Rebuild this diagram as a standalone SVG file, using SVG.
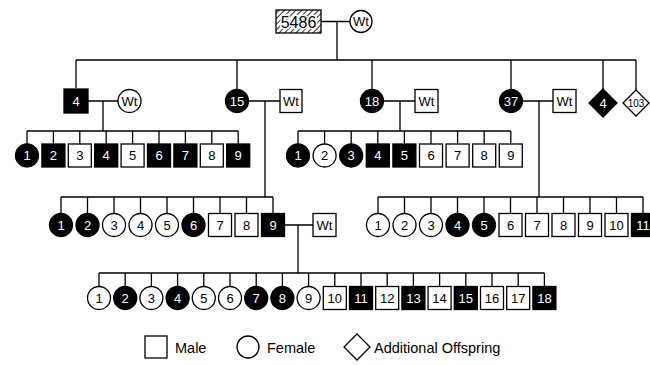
<svg xmlns="http://www.w3.org/2000/svg" width="650" height="365" viewBox="0 0 650 365">
<defs>
<pattern id="hatch" width="4" height="4" patternUnits="userSpaceOnUse" patternTransform="rotate(45)">
<rect width="4" height="4" fill="#fff"/>
<line x1="0" y1="0" x2="0" y2="4" stroke="#000" stroke-width="1.6"/>
</pattern>
<style>
.ln{stroke:#000;stroke-width:1.3;fill:none}
.o{fill:#fff;stroke:#000;stroke-width:1.3}
.b{fill:#000;stroke:#000;stroke-width:1.3}
text{font-family:"Liberation Sans",Arial,sans-serif;font-size:13px;text-anchor:middle}
.tw{fill:#fff}
.tb{fill:#000}
.big{font-size:16px;stroke:#fff;stroke-width:3;paint-order:stroke;stroke-linejoin:round}
.sm{font-size:10px}
.lg{text-anchor:start;font-size:14.5px}
</style>
</defs>
<rect width="650" height="365" fill="#fff"/>

<g id="connectors" class="ln">
<path d="M321 21.5H350M337 21.5V60M76 60H636M76 60V88M237 60V90M372 60V90M511 60V90M603 60V89M636 60V90"/>
<path d="M88 101H118M103 101V131M248.5 101H280M265 101V197M383.5 101H415M400 101V131M522.5 101H553M539 101V197"/>
<path d="M27 131H238.2M27 131V144M53.4 131V144M79.8 131V144M106.2 131V144M132.6 131V144M159 131V144M185.4 131V144M211.8 131V144M238.2 131V144"/>
<path d="M298 131H510.8M298 131V144M324.6 131V144M351.2 131V144M377.8 131V144M404.4 131V144M431 131V144M457.6 131V144M484.2 131V144M510.8 131V144"/>
<path d="M61 197H273M61 197V213.5M87.5 197V213.5M114 197V213.5M140.5 197V213.5M167 197V213.5M193.5 197V213.5M220 197V213.5M246.5 197V213.5M273 197V213.5"/>
<path d="M378 197H643M378 197V213.5M404.5 197V213.5M431 197V213.5M457.5 197V213.5M484 197V213.5M510.5 197V213.5M537 197V213.5M563.5 197V213.5M590 197V213.5M616.5 197V213.5M643 197V213.5"/>
<path d="M284.5 225H313M298 225V273M99 273H544.4M99 273V286.5M125.2 273V286.5M151.4 273V286.5M177.6 273V286.5M203.8 273V286.5M230 273V286.5M256.2 273V286.5M282.4 273V286.5M308.6 273V286.5M334.8 273V286.5M361 273V286.5M387.2 273V286.5M413.4 273V286.5M439.6 273V286.5M465.8 273V286.5M492 273V286.5M518.2 273V286.5M544.4 273V286.5"/>
</g>

<!-- Generation I -->
<g id="g1-5486"><rect x="276" y="10" width="45" height="23" fill="url(#hatch)" stroke="#000" stroke-width="1.3"/><text x="298.5" y="27.5" class="big tb">5486</text></g>
<g id="g1-wt"><circle cx="361" cy="21.5" r="11" class="o"/><text x="361" y="26" class="tb">Wt</text></g>

<!-- Generation II -->
<g id="g2-4"><rect x="64" y="89" width="24" height="24" class="b"/><text x="76" y="105.5" class="tw">4</text></g>
<g id="g2-4wt"><circle cx="129.5" cy="101" r="11.5" class="o"/><text x="129.5" y="105.5" class="tb">Wt</text></g>
<g id="g2-15"><circle cx="237" cy="101" r="11.5" class="b"/><text x="237" y="105.5" class="tw">15</text></g>
<g id="g2-15wt"><rect x="280" y="89.5" width="22" height="23" class="o"/><text x="291" y="105.5" class="tb">Wt</text></g>
<g id="g2-18"><circle cx="372" cy="101" r="11.5" class="b"/><text x="372" y="105.5" class="tw">18</text></g>
<g id="g2-18wt"><rect x="415" y="89.5" width="23" height="23" class="o"/><text x="426.5" y="105.5" class="tb">Wt</text></g>
<g id="g2-37"><circle cx="511" cy="101" r="11.5" class="b"/><text x="511" y="105.5" class="tw">37</text></g>
<g id="g2-37wt"><rect x="553" y="89.5" width="23" height="23" class="o"/><text x="564.5" y="105.5" class="tb">Wt</text></g>
<g id="g2-d4"><polygon points="603,89 617,103 603,117 589,103" class="b"/><text x="603" y="107.5" class="tw">4</text></g>
<g id="g2-d103"><polygon points="636,90 649,103 636,116 623,103" class="o"/><text x="636" y="106.5" class="sm tb">103</text></g>

<!-- Generation III (children of 4) -->
<g id="g3a-1"><circle cx="27" cy="155.5" r="11.5" class="b"/><text x="27" y="160" class="tw">1</text></g>
<g id="g3a-2"><rect x="41.9" y="144" width="23" height="23" class="b"/><text x="53.4" y="160" class="tw">2</text></g>
<g id="g3a-3"><rect x="68.3" y="144" width="23" height="23" class="o"/><text x="79.8" y="160" class="tb">3</text></g>
<g id="g3a-4"><rect x="94.7" y="144" width="23" height="23" class="b"/><text x="106.2" y="160" class="tw">4</text></g>
<g id="g3a-5"><rect x="121.1" y="144" width="23" height="23" class="o"/><text x="132.6" y="160" class="tb">5</text></g>
<g id="g3a-6"><rect x="147.5" y="144" width="23" height="23" class="b"/><text x="159" y="160" class="tw">6</text></g>
<g id="g3a-7"><rect x="173.9" y="144" width="23" height="23" class="b"/><text x="185.4" y="160" class="tw">7</text></g>
<g id="g3a-8"><rect x="200.3" y="144" width="23" height="23" class="o"/><text x="211.8" y="160" class="tb">8</text></g>
<g id="g3a-9"><rect x="226.7" y="144" width="23" height="23" class="b"/><text x="238.2" y="160" class="tw">9</text></g>

<!-- Generation III (children of 18) -->
<g id="g3b-1"><circle cx="298" cy="155.5" r="11.5" class="b"/><text x="298" y="160" class="tw">1</text></g>
<g id="g3b-2"><circle cx="324.6" cy="155.5" r="11.5" class="o"/><text x="324.6" y="160" class="tb">2</text></g>
<g id="g3b-3"><circle cx="351.2" cy="155.5" r="11.5" class="b"/><text x="351.2" y="160" class="tw">3</text></g>
<g id="g3b-4"><rect x="366.3" y="144" width="23" height="23" class="b"/><text x="377.8" y="160" class="tw">4</text></g>
<g id="g3b-5"><rect x="392.9" y="144" width="23" height="23" class="b"/><text x="404.4" y="160" class="tw">5</text></g>
<g id="g3b-6"><rect x="419.5" y="144" width="23" height="23" class="o"/><text x="431" y="160" class="tb">6</text></g>
<g id="g3b-7"><rect x="446.1" y="144" width="23" height="23" class="o"/><text x="457.6" y="160" class="tb">7</text></g>
<g id="g3b-8"><rect x="472.7" y="144" width="23" height="23" class="o"/><text x="484.2" y="160" class="tb">8</text></g>
<g id="g3b-9"><rect x="499.3" y="144" width="23" height="23" class="o"/><text x="510.8" y="160" class="tb">9</text></g>

<!-- Generation III (children of 15) -->
<g id="g3c-1"><circle cx="61" cy="225" r="11.5" class="b"/><text x="61" y="229.5" class="tw">1</text></g>
<g id="g3c-2"><circle cx="87.5" cy="225" r="11.5" class="b"/><text x="87.5" y="229.5" class="tw">2</text></g>
<g id="g3c-3"><circle cx="114" cy="225" r="11.5" class="o"/><text x="114" y="229.5" class="tb">3</text></g>
<g id="g3c-4"><circle cx="140.5" cy="225" r="11.5" class="o"/><text x="140.5" y="229.5" class="tb">4</text></g>
<g id="g3c-5"><circle cx="167" cy="225" r="11.5" class="o"/><text x="167" y="229.5" class="tb">5</text></g>
<g id="g3c-6"><circle cx="193.5" cy="225" r="11.5" class="b"/><text x="193.5" y="229.5" class="tw">6</text></g>
<g id="g3c-7"><rect x="208.5" y="213.5" width="23" height="23" class="o"/><text x="220" y="229.5" class="tb">7</text></g>
<g id="g3c-8"><rect x="235" y="213.5" width="23" height="23" class="o"/><text x="246.5" y="229.5" class="tb">8</text></g>
<g id="g3c-9"><rect x="261.5" y="213.5" width="23" height="23" class="b"/><text x="273" y="229.5" class="tw">9</text></g>
<g id="g3c-9wt"><rect x="313" y="213.5" width="23" height="23" class="o"/><text x="324.5" y="229.5" class="tb">Wt</text></g>

<!-- Generation III (children of 37) -->
<g id="g3d-1"><circle cx="378" cy="225" r="11.5" class="o"/><text x="378" y="229.5" class="tb">1</text></g>
<g id="g3d-2"><circle cx="404.5" cy="225" r="11.5" class="o"/><text x="404.5" y="229.5" class="tb">2</text></g>
<g id="g3d-3"><circle cx="431" cy="225" r="11.5" class="o"/><text x="431" y="229.5" class="tb">3</text></g>
<g id="g3d-4"><circle cx="457.5" cy="225" r="11.5" class="b"/><text x="457.5" y="229.5" class="tw">4</text></g>
<g id="g3d-5"><circle cx="484" cy="225" r="11.5" class="b"/><text x="484" y="229.5" class="tw">5</text></g>
<g id="g3d-6"><rect x="499" y="213.5" width="23" height="23" class="o"/><text x="510.5" y="229.5" class="tb">6</text></g>
<g id="g3d-7"><rect x="525.5" y="213.5" width="23" height="23" class="o"/><text x="537" y="229.5" class="tb">7</text></g>
<g id="g3d-8"><rect x="552" y="213.5" width="23" height="23" class="o"/><text x="563.5" y="229.5" class="tb">8</text></g>
<g id="g3d-9"><rect x="578.5" y="213.5" width="23" height="23" class="o"/><text x="590" y="229.5" class="tb">9</text></g>
<g id="g3d-10"><rect x="605" y="213.5" width="23" height="23" class="o"/><text x="616.5" y="229.5" class="tb">10</text></g>
<g id="g3d-11"><rect x="631.5" y="213.5" width="23" height="23" class="b"/><text x="643" y="229.5" class="tw">11</text></g>

<!-- Generation IV -->
<g id="g4-1"><circle cx="99" cy="298" r="11.5" class="o"/><text x="99" y="302.5" class="tb">1</text></g>
<g id="g4-2"><circle cx="125.2" cy="298" r="11.5" class="b"/><text x="125.2" y="302.5" class="tw">2</text></g>
<g id="g4-3"><circle cx="151.4" cy="298" r="11.5" class="o"/><text x="151.4" y="302.5" class="tb">3</text></g>
<g id="g4-4"><circle cx="177.6" cy="298" r="11.5" class="b"/><text x="177.6" y="302.5" class="tw">4</text></g>
<g id="g4-5"><circle cx="203.8" cy="298" r="11.5" class="o"/><text x="203.8" y="302.5" class="tb">5</text></g>
<g id="g4-6"><circle cx="230" cy="298" r="11.5" class="o"/><text x="230" y="302.5" class="tb">6</text></g>
<g id="g4-7"><circle cx="256.2" cy="298" r="11.5" class="b"/><text x="256.2" y="302.5" class="tw">7</text></g>
<g id="g4-8"><circle cx="282.4" cy="298" r="11.5" class="b"/><text x="282.4" y="302.5" class="tw">8</text></g>
<g id="g4-9"><circle cx="308.6" cy="298" r="11.5" class="o"/><text x="308.6" y="302.5" class="tb">9</text></g>
<g id="g4-10"><rect x="323.3" y="286.5" width="23" height="23" class="o"/><text x="334.8" y="302.5" class="tb">10</text></g>
<g id="g4-11"><rect x="349.5" y="286.5" width="23" height="23" class="b"/><text x="361" y="302.5" class="tw">11</text></g>
<g id="g4-12"><rect x="375.7" y="286.5" width="23" height="23" class="o"/><text x="387.2" y="302.5" class="tb">12</text></g>
<g id="g4-13"><rect x="401.9" y="286.5" width="23" height="23" class="b"/><text x="413.4" y="302.5" class="tw">13</text></g>
<g id="g4-14"><rect x="428.1" y="286.5" width="23" height="23" class="o"/><text x="439.6" y="302.5" class="tb">14</text></g>
<g id="g4-15"><rect x="454.3" y="286.5" width="23" height="23" class="b"/><text x="465.8" y="302.5" class="tw">15</text></g>
<g id="g4-16"><rect x="480.5" y="286.5" width="23" height="23" class="o"/><text x="492" y="302.5" class="tb">16</text></g>
<g id="g4-17"><rect x="506.7" y="286.5" width="23" height="23" class="o"/><text x="518.2" y="302.5" class="tb">17</text></g>
<g id="g4-18"><rect x="532.9" y="286.5" width="23" height="23" class="b"/><text x="544.4" y="302.5" class="tw">18</text></g>

<!-- Legend -->
<g id="legend-male"><rect x="145" y="336" width="22" height="22" class="o"/><text x="175" y="352.5" class="lg">Male</text></g>
<g id="legend-female"><circle cx="248" cy="347" r="11" class="o"/><text x="267" y="352.5" class="lg">Female</text></g>
<g id="legend-offspring"><polygon points="357,334 370,347 357,360 344,347" class="o"/><text x="374" y="352.5" class="lg">Additional Offspring</text></g>
</svg>
